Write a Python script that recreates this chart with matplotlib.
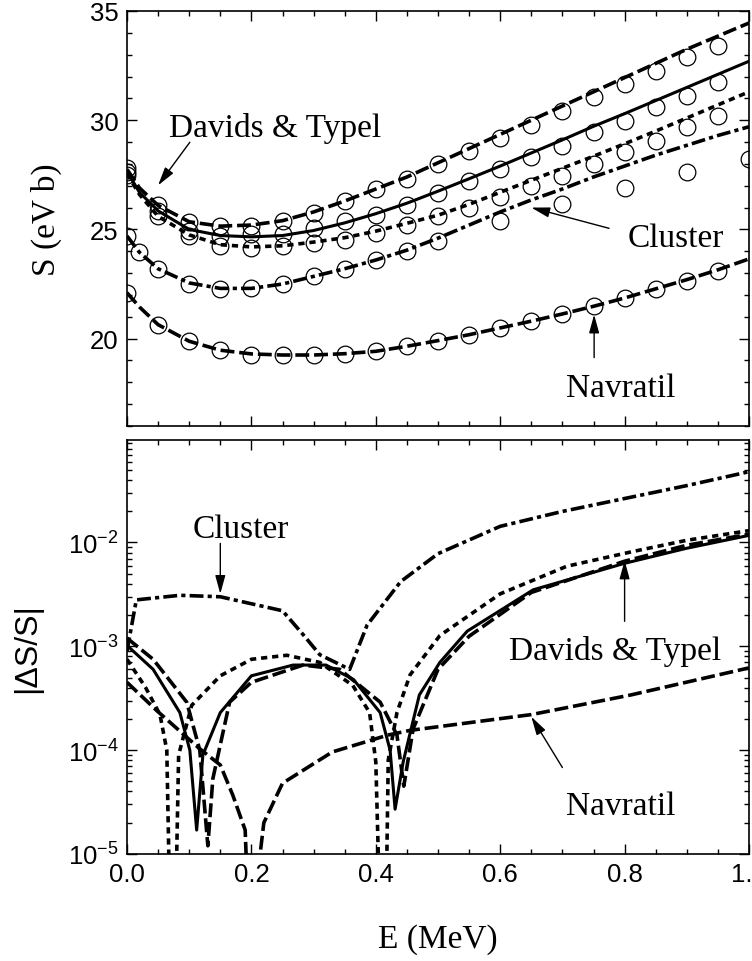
import matplotlib
matplotlib.use('Agg')
import matplotlib.pyplot as plt
import numpy as np
from matplotlib.ticker import MultipleLocator, LogLocator, NullFormatter

plt.rcParams['font.family'] = ['Liberation Sans', 'DejaVu Sans']
plt.rcParams['mathtext.default'] = 'regular'
plt.rcParams['lines.scale_dashes'] = False

# ---- top panel: S factor (eV b) ----
E_line = [0, 0.02, 0.05, 0.1, 0.15, 0.2, 0.25, 0.3, 0.35, 0.4, 0.45, 0.5,
          0.55, 0.6, 0.65, 0.7, 0.75, 0.8, 0.85, 0.9, 0.95, 1.0]
dashed_line = [27.75, 26.9, 26.1, 25.35, 25.15, 25.2, 25.4, 25.8, 26.3, 26.85, 27.4, 28.05,
               28.7, 29.35, 30.0, 30.65, 31.3, 31.95, 32.6, 33.25, 33.85, 34.45]
solid_line = [27.65, 26.7, 25.85, 25.0, 24.72, 24.66, 24.72, 24.95, 25.3, 25.72, 26.2, 26.75,
              27.32, 27.9, 28.5, 29.1, 29.72, 30.3, 30.9, 31.5, 32.1, 32.7]
dotted_line = [27.55, 26.6, 25.6, 24.75, 24.3, 24.2, 24.25, 24.42, 24.62, 24.92, 25.28, 25.65,
               26.15, 26.7, 27.25, 27.8, 28.35, 28.92, 29.5, 30.1, 30.7, 31.3]
cluster_line = [24.7, 23.95, 23.2, 22.55, 22.3, 22.3, 22.5, 22.85, 23.2, 23.6, 24.05, 24.6,
                25.2, 25.8, 26.35, 26.85, 27.4, 27.9, 28.4, 28.85, 29.3, 29.7]
navratil_line = [22.1, 21.45, 20.64, 19.88, 19.47, 19.3, 19.25, 19.25, 19.31, 19.42, 19.65, 19.91,
                 20.18, 20.49, 20.8, 21.13, 21.48, 21.86, 22.28, 22.7, 23.15, 23.65]

E_pts = [0, 0.05, 0.1, 0.15, 0.2, 0.25, 0.3, 0.35, 0.4, 0.45,
         0.5, 0.55, 0.6, 0.65, 0.7, 0.75, 0.8, 0.85, 0.9, 0.95]
dashed_pts = [27.8, 26.1, 25.32, 25.15, 25.15, 25.37, 25.77, 26.3, 26.83, 27.29,
              27.98, 28.58, 29.2, 29.8, 30.4, 31.05, 31.65, 32.25, 32.9, 33.4]
solid_pts = [27.65, 25.85, 24.95, 24.69, 24.77, 24.77, 25.07, 25.37, 25.68, 26.14,
             26.65, 27.2, 27.75, 28.3, 28.8, 29.45, 29.95, 30.6, 31.1, 31.74]
dotted_pts = [27.5, 25.6, 24.72, 24.23, 24.16, 24.23, 24.38, 24.53, 24.84, 25.22,
              25.6, 26.0, 26.5, 26.97, 27.43, 27.98, 28.53, 29.03, 29.68, 30.18]
navratil_pts = [22.1, 20.64, 19.88, 19.47, 19.27, 19.27, 19.25, 19.31, 19.42, 19.65,
                19.91, 20.18, 20.49, 20.79, 21.13, 21.48, 21.86, 22.28, 22.66, 23.09]
E_cluster_pts = [0, 0.02, 0.05, 0.1, 0.15, 0.2, 0.25, 0.3, 0.35, 0.4, 0.45, 0.5,
                 0.6, 0.7, 0.8, 0.9, 1.0]
cluster_pts = [24.69, 23.95, 23.17, 22.5, 22.28, 22.3, 22.5, 22.86, 23.2, 23.58, 24.0, 24.45,
               25.38, 26.15, 26.91, 27.63, 28.24]

# ---- bottom panel: |dS/S| ----
E_solid_d = [0, 0.042, 0.085, 0.101, 0.112, 0.122, 0.15, 0.2, 0.267, 0.32, 0.364, 0.407,
             0.423, 0.431, 0.444, 0.47, 0.503, 0.547, 0.653, 0.8, 0.9, 1.0]
solid_d = [1.02e-3, 6.0e-4, 2.3e-4, 1.0e-4, 1.7e-5, 9e-5, 2.3e-4, 5.2e-4, 6.6e-4, 6.6e-4, 4.8e-4, 2.3e-4,
           1.0e-4, 2.7e-5, 7.7e-5, 3.4e-4, 7.0e-4, 1.4e-3, 3.5e-3, 6.3e-3, 8.8e-3, 1.17e-2]
E_dotted_d = [0, 0.03, 0.053, 0.064, 0.0735, 0.083, 0.104, 0.15, 0.2, 0.257, 0.31, 0.363,
              0.39, 0.40, 0.413, 0.42, 0.434, 0.455, 0.503, 0.6, 0.707, 0.814, 0.9, 1.0]
dotted_d = [7.5e-4, 4e-4, 2.2e-4, 1.0e-4, 1e-7, 9e-5, 2.7e-4, 5.2e-4, 7.5e-4, 8.2e-4, 7.0e-4, 4.2e-4,
            2.3e-4, 7.7e-5, 1e-7, 8e-5, 2.3e-4, 5.3e-4, 1.27e-3, 3.2e-3, 5.9e-3, 8.2e-3, 1.05e-2, 1.3e-2]
E_dashed_d = [0, 0.042, 0.096, 0.117, 0.13, 0.138, 0.165, 0.2, 0.283, 0.342, 0.407, 0.434,
              0.445, 0.46, 0.5, 0.55, 0.65, 0.8, 0.9, 1.0]
dashed_d = [1.2e-3, 7.5e-4, 2.9e-4, 1.0e-4, 1.2e-5, 5.3e-5, 2.9e-4, 4.5e-4, 6.6e-4, 6.0e-4, 2.9e-4, 1.4e-4,
            4.5e-5, 1.6e-4, 6.0e-4, 1.25e-3, 3.3e-3, 6.6e-3, 9.4e-3, 1.2e-2]
E_cluster_d = [0, 0.015, 0.085, 0.15, 0.25, 0.283, 0.31, 0.358, 0.386, 0.44, 0.5,
               0.6, 0.7, 0.8, 0.9, 1.0]
cluster_d = [9e-4, 2.8e-3, 3.1e-3, 3.0e-3, 2.2e-3, 1.3e-3, 8.3e-4, 6e-4, 1.6e-3, 4.2e-3, 7.8e-3,
             1.43e-2, 1.99e-2, 2.65e-2, 3.53e-2, 4.8e-2]
E_navratil_d = [0, 0.048, 0.117, 0.15, 0.17, 0.19, 0.204, 0.214, 0.22, 0.25, 0.33, 0.42,
                0.455, 0.65, 0.81, 1.0]
navratil_d = [4.5e-4, 2.4e-4, 1.03e-4, 7.2e-5, 3.7e-5, 1.7e-5, 1e-7, 1e-5, 2e-5, 4.8e-5, 9.6e-5, 1.4e-4,
              1.55e-4, 2.2e-4, 3.4e-4, 6.2e-4]

# line styles (dash patterns in points)
long_dash = (0, (10, 3.5))
short_dash = (0, (4.5, 3.5))
dash_dot = (0, (10, 3, 3, 3))
lw = 2.6

fig = plt.figure(figsize=(7.52, 9.62), dpi=100)
ax1 = fig.add_axes([127/752, 1-427/962, 622/752, 415/962])
ax2 = fig.add_axes([127/752, 1-855/962, 622/752, 414/962])

# top panel
ax1.plot(E_line, dashed_line, color='k', lw=lw, ls=long_dash)
ax1.plot(E_line, solid_line, color='k', lw=2.2, ls='-')
ax1.plot(E_line, dotted_line, color='k', lw=lw, ls=short_dash)
ax1.plot(E_line, cluster_line, color='k', lw=lw, ls=dash_dot)
ax1.plot(E_line, navratil_line, color='k', lw=lw, ls=long_dash)
circ = dict(ls='none', marker='o', ms=12, mfc='none', mec='k', mew=0.9)
for ys in [dashed_pts, solid_pts, dotted_pts, navratil_pts]:
    ax1.plot(E_pts, ys, **circ)
ax1.plot(E_cluster_pts, cluster_pts, **circ)

ax1.set_xlim(0, 1.0)
ax1.set_ylim(16, 35)
ax1.xaxis.set_major_locator(MultipleLocator(0.2))
ax1.xaxis.set_minor_locator(MultipleLocator(0.05))
ax1.yaxis.set_major_locator(MultipleLocator(5))
ax1.yaxis.set_minor_locator(MultipleLocator(1))
ax1.tick_params(labelbottom=False)
ax1.set_ylabel('S (eV b)', family='Liberation Serif', fontsize=24)
ax1.yaxis.set_label_coords(-0.104, 0.5)

# bottom panel
ax2.plot(E_dashed_d, dashed_d, color='k', lw=lw, ls=long_dash)
ax2.plot(E_solid_d, solid_d, color='k', lw=2.2, ls='-')
ax2.plot(E_dotted_d, dotted_d, color='k', lw=lw, ls=short_dash)
ax2.plot(E_cluster_d, cluster_d, color='k', lw=lw, ls=dash_dot)
ax2.plot(E_navratil_d, navratil_d, color='k', lw=lw, ls=long_dash)

ax2.set_yscale('log')
ax2.set_xlim(0, 1.0)
ax2.set_ylim(1e-5, 0.097)
ax2.xaxis.set_major_locator(MultipleLocator(0.2))
ax2.xaxis.set_minor_locator(MultipleLocator(0.05))
ax2.yaxis.set_major_locator(LogLocator(base=10))
ax2.yaxis.set_minor_locator(LogLocator(base=10, subs=np.arange(2, 10)))
ax2.yaxis.set_minor_formatter(NullFormatter())
ax2.set_ylabel('|ΔS/S|', fontsize=23)
ax2.yaxis.set_label_coords(-0.137, 0.5)
ax2.set_xlabel('E (MeV)', family='Liberation Serif', fontsize=24)
ax2.xaxis.set_label_coords(0.5, -0.168)

for ax in (ax1, ax2):
    ax.tick_params(which='both', direction='in', top=True, right=True, labelsize=18.5, width=1.0)
    ax.tick_params(which='major', length=7, pad=6)
    ax.tick_params(which='minor', length=3.5)
    for sp in ax.spines.values():
        sp.set_linewidth(1.2)

# annotations
ann_font = dict(family='Liberation Serif', fontsize=24, ha='center', va='center')
arrow = dict(arrowstyle='-|>,head_length=0.8,head_width=0.22', color='k', lw=1.0,
             shrinkA=0, shrinkB=0, mutation_scale=14)

ax1.text(0.238, 29.68, 'Davids & Typel', **ann_font)
ax1.annotate('', xy=(0.05, 27.02), xytext=(0.101, 28.99), arrowprops=arrow)
ax1.text(0.883, 24.63, 'Cluster', **ann_font)
ax1.annotate('', xy=(0.65, 26.0), xytext=(0.775, 25.05), arrowprops=arrow)
ax1.text(0.794, 17.75, 'Navratil', **ann_font)
ax1.annotate('', xy=(0.751, 21.1), xytext=(0.751, 19.13), arrowprops=arrow)

ax2.text(0.183, 1.36e-2, 'Cluster', **ann_font)
ax2.annotate('', xy=(0.150, 3.2e-3), xytext=(0.150, 9.8e-3), arrowprops=arrow)
ax2.text(0.785, 9.1e-4, 'Davids & Typel', **ann_font)
ax2.annotate('', xy=(0.8, 6.7e-3), xytext=(0.8, 1.74e-3), arrowprops=arrow)
ax2.text(0.794, 2.9e-5, 'Navratil', **ann_font)
ax2.annotate('', xy=(0.65, 2.1e-4), xytext=(0.70, 6.8e-5), arrowprops=arrow)

fig.savefig('out.png', dpi=100)
